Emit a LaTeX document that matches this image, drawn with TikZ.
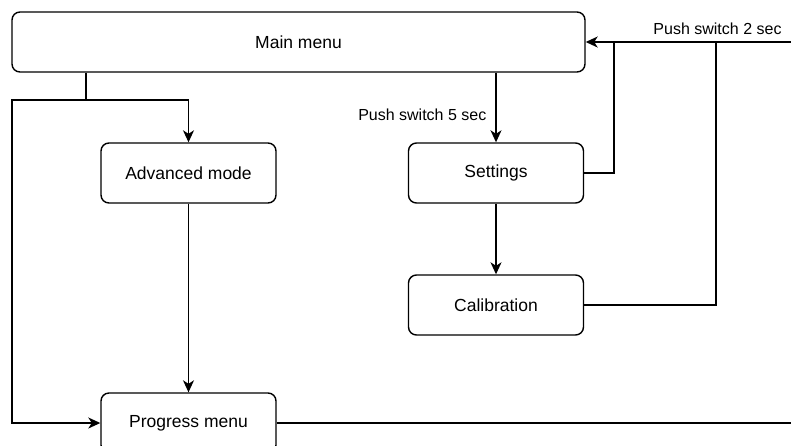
\documentclass[tikz,border=0pt]{standalone}
\usepackage{fontspec}
\setmainfont{Liberation Sans}
\usetikzlibrary{arrows.meta,positioning}

\begin{document}
\begin{tikzpicture}[x=1pt,y=-1pt,
  every node/.style={font=\fontsize{17.5}{20}\selectfont},
  box/.style={draw=black,line width=1.4pt,rounded corners=8pt,align=center,minimum width=175pt,minimum height=60pt,inner sep=0pt},
  wide/.style={box,minimum width=573pt},
  lbl/.style={font=\fontsize{16}{18}\selectfont,inner sep=2pt},
  ln/.style={line width=1.4pt},
  ar/.style={-{Stealth[length=12pt,width=11pt,inset=3.5pt]},line width=1.4pt}]
\useasboundingbox (0,0) rectangle (791,445);
\clip (0,0) rectangle (791,445);
\node[wide] (main) at (298.5,42) {Main menu};
\node[box] (adv) at (188.5,173) {Advanced mode};
\node[box] (set) at (496,173) {Settings};
\node[box] (cal) at (496,305) {Calibration};
\node[box] (prog) at (188.5,423) {Progress menu};
\coordinate (split) at (86,100);
\coordinate (lft) at (12,100);
\coordinate (j1) at (614,42);
\coordinate (j2) at (716,42);
\coordinate (offR) at (800,42);
\coordinate (offB) at (800,423);
\draw[ar] (main.south -| split) -- (split) -| (adv);
\draw[ar] (split) -- (lft) |- (prog);
\draw[ar] (adv) -- (prog);
\draw[ar] (main.south -| set.north) -- node[lbl,left=7pt,pos=0.6]{Push switch 5 sec} (set);
\draw[ar] (set) -- (cal);
\draw[ar] (offR) -- node[lbl,above=5pt,pos=0.385]{Push switch 2 sec} (main.east);
\draw[ln] (set.east) -| (j1);
\draw[ln] (cal.east) -| (j2);
\draw[ln] (prog.east) -- (offB);
\end{tikzpicture}
\end{document}
